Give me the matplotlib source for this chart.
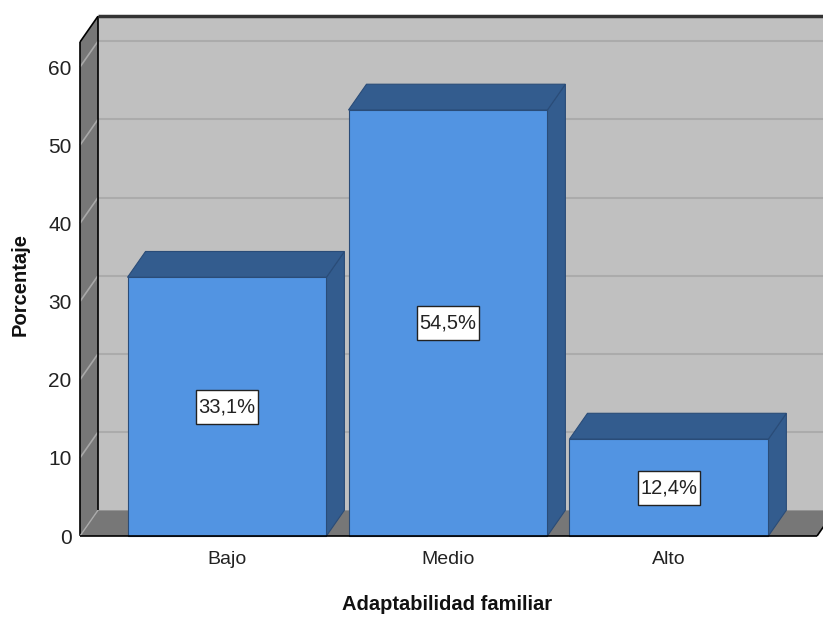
import matplotlib.pyplot as plt
from matplotlib.patches import Polygon, Rectangle

categorias = ["Bajo", "Medio", "Alto"]
porcentajes = [33.1, 54.5, 12.4]
etiquetas = ["33,1%", "54,5%", "12,4%"]
yticks = [0, 10, 20, 30, 40, 50, 60]

plt.rcParams['font.family'] = ['Liberation Sans', 'DejaVu Sans']

fig = plt.figure(figsize=(8.23, 6.17), dpi=100)
ax = fig.add_axes([80/823, 81/617, 737/823, 494/617])
x0, x1 = -0.665, 2.67
ymax = 63.2
dx, dy = 0.0814, 3.3   # depth of the 3D box
ax.set_xlim(x0, x1)
ax.set_ylim(0, ymax)
ax.patch.set_visible(False)
for s in ax.spines.values():
    s.set_visible(False)


def poly(pts, fc, ec='none', lw=0.8, z=1):
    ax.add_patch(Polygon(pts, closed=True, fc=fc, ec=ec, lw=lw, clip_on=False, zorder=z))


def line(xs, ys, c='black', lw=1.2, z=1):
    ax.plot(xs, ys, color=c, lw=lw, clip_on=False, solid_capstyle='butt', zorder=z)


xr = x1 + 0.3
# back wall, side wall, floor
poly([(x0+dx, dy), (xr, dy), (xr, ymax+dy), (x0+dx, ymax+dy)], '#C0C0C0', z=0.5)
poly([(x0, 0), (x0+dx, dy), (x0+dx, ymax+dy), (x0, ymax)], '#777777', z=0.5)
for v in yticks[1:]:
    line([x0+dx, xr], [v+dy, v+dy], '#ABABAB', 1.5, z=0.6)
    line([x0, x0+dx], [v, v+dy], '#A8A8A8', 1.2, z=0.6)
poly([(x0, 0), (x1, 0), (x1+dx, dy), (x0+dx, dy)], '#777777', z=0.7)

# frame edges
line([x0, x0], [0, ymax], z=0.8)
line([x0, x0+dx], [ymax, ymax+dy], z=0.8)
line([x0+dx, x0+dx], [dy, ymax+dy], z=0.8)
line([x0+dx, xr], [ymax+dy, ymax+dy], '#333333', 2.5, z=0.8)
line([x1, x1+dx], [0, dy], z=0.8)
line([x0, x0+dx], [0, dy], '#AAAAAA', 1.0, z=0.8)
line([x0, x1], [0, 0], z=5)

# bars
w = 0.9
for i, v in enumerate(porcentajes):
    l, r = i - w/2, i + w/2
    poly([(r, 0), (r+dx, dy), (r+dx, v+dy), (r, v)], '#335C8E', '#2A4C78', z=2)
    poly([(l, v), (r, v), (r+dx, v+dy), (l+dx, v+dy)], '#335C8E', '#2A4C78', z=2)
    poly([(l, 0), (r, 0), (r, v), (l, v)], '#5294E2', '#2A4C78', z=2)
    bw, bh = 0.28, 4.35
    ax.add_patch(Rectangle((i - bw/2, v/2 - bh/2), bw, bh, fc='white',
                           ec='#222222', lw=1, zorder=3))
    ax.text(i, v/2, etiquetas[i], ha='center', va='center', fontsize=14.5,
            color='#222222', zorder=4)

ax.set_yticks(yticks)
ax.set_xticks(range(len(categorias)), categorias)
ax.tick_params(axis='y', length=0, pad=6, labelsize=15, labelcolor='#222222')
ax.tick_params(axis='x', length=0, pad=11, labelsize=14, labelcolor='#222222')

fig.text(447/823, 1 - 605/617, "Adaptabilidad familiar", ha='center', va='center',
         fontsize=14.5, fontweight='bold', color='#111111')
fig.text(20/823, 1 - 284/617, "Porcentaje", ha='center', va='center',
         rotation=90, fontsize=14.5, fontweight='bold', color='#111111')

fig.savefig('out.png', dpi=100, facecolor='white')
